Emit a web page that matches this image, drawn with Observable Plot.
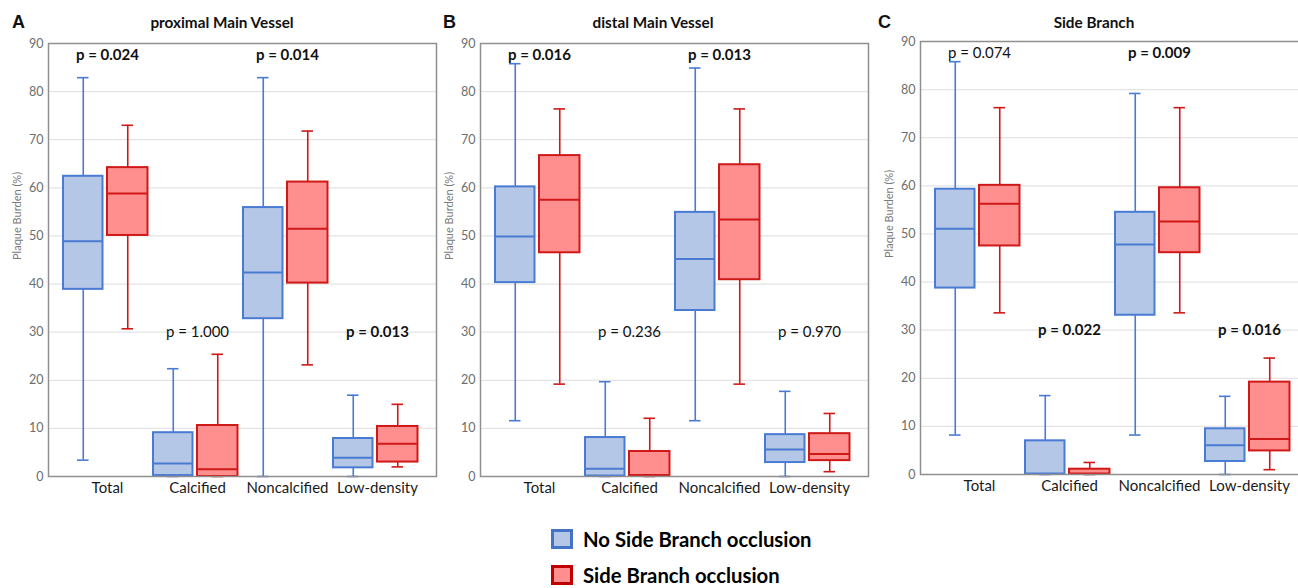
<!DOCTYPE html>
<html><head><meta charset="utf-8">
<script src="https://cdn.jsdelivr.net/npm/d3@7"></script>
<script src="https://cdn.jsdelivr.net/npm/@observablehq/plot@0.6"></script>
<style>
html,body{margin:0;padding:0;background:#fff;overflow:hidden;width:1298px;height:588px;}
#root{position:relative;width:1298px;height:588px;overflow:hidden;font-family:Lato,sans-serif;color:#111;}
.panel{position:absolute;width:440px;}
.panel svg{max-width:none !important;}
.letter{position:absolute;font:bold 18px "Liberation Sans",Arial,sans-serif;top:12px;color:#111;}
.title{position:absolute;font:bold 15.3px Lato,sans-serif;transform:translateX(-50%);top:13px;white-space:nowrap;color:#111;}
.panel svg g[aria-label^="y-axis"] text{fill:#6d6d6d;font-size:12.5px;}
.panel svg g[aria-label^="x-axis"] text{fill:#1a1a1a;font-size:15px;}
.leg{position:absolute;font:bold 20.3px Lato,sans-serif;line-height:22px;height:22px;color:#000;display:flex;align-items:center;white-space:nowrap;}
.sw{display:inline-block;width:22px;height:20px;box-sizing:border-box;border:3px solid;margin-right:10px;}
</style>
</head><body>
<div id="root"></div>
<script>
// ---- data ----
const categories = ["Total", "Calcified", "Noncalcified", "Low-density"];
const groups = ["No Side Branch occlusion", "Side Branch occlusion"];
const panelLetters = ["A", "B", "C"];
const panelTitles = ["proximal Main Vessel", "distal Main Vessel", "Side Branch"];
const yTicks = [0, 10, 20, 30, 40, 50, 60, 70, 80, 90];
const yLabel = "Plaque Burden (%)";

// [min, q1, median, q3, max] per category
const proximalNo = [
  [3.4, 38.9, 48.9, 62.4, 82.9],
  [0, 0.2, 2.7, 9.1, 22.4],
  [0, 32.8, 42.4, 55.9, 82.9],
  [0, 1.8, 3.9, 7.9, 16.9]
];
const proximalYes = [
  [30.7, 50.1, 58.8, 64.2, 73.0],
  [0, 0, 1.5, 10.6, 25.4],
  [23.2, 40.2, 51.5, 61.2, 71.8],
  [2.0, 3.0, 6.8, 10.4, 15.0]
];
const distalNo = [
  [11.6, 40.3, 49.9, 60.2, 85.8],
  [0, 0.1, 1.6, 8.1, 19.7],
  [11.6, 34.5, 45.2, 54.9, 84.9],
  [0, 2.9, 5.6, 8.7, 17.7]
];
const distalYes = [
  [19.2, 46.5, 57.5, 66.7, 76.4],
  [0, 0, 0.3, 5.2, 12.1],
  [19.2, 40.9, 53.4, 64.8, 76.4],
  [1.0, 3.3, 4.7, 8.9, 13.1]
];
const sideNo = [
  [8.2, 38.75, 51.1, 59.3, 85.8],
  [0, 0, 0.2, 7.0, 16.4],
  [8.2, 33.1, 47.8, 54.5, 79.2],
  [0, 2.7, 6.1, 9.5, 16.25]
];
const sideYes = [
  [33.6, 47.5, 56.3, 60.1, 76.25],
  [0, 0, 0.2, 1.1, 2.5],
  [33.6, 46.1, 52.6, 59.6, 76.25],
  [1.0, 4.9, 7.4, 19.2, 24.2]
];
const pProximal = ["0.024", "1.000", "0.014", "0.013"];
const pDistal = ["0.016", "0.236", "0.013", "0.970"];
const pSide = ["0.074", "0.022", "0.009", "0.016"];

// ---- styling / layout ----
const colors = {
  [groups[0]]: {fill: "#b4c7e7", stroke: "#4a7bd3"},
  [groups[1]]: {fill: "#ff8f8f", stroke: "#cf1818"}
};
const W = 440, H = 510, ML = 48, MR = 4, MT = 43, MB = 34;
const padOuter = 0.1436;
const frameW = W - ML - MR;
const step = frameW / (categories.length + 2 * padOuter);
// box extents inside a band (pixels from band start)
const boxSpan = {[groups[0]]: [1, 41], [groups[1]]: [45, 86]};
const capHalf = 6;

const root = document.getElementById("root");
const panels = [
  {no: proximalNo, yes: proximalYes, p: pProximal, left: 0, top: 0, titleX: 222, letterX: 12},
  {no: distalNo, yes: distalYes, p: pDistal, left: 432, top: 0, titleX: 653, letterX: 443},
  {no: sideNo, yes: sideYes, p: pSide, left: 872, top: -2, titleX: 1094, letterX: 878}
];
const pLabelY = {"Total": 87.5, "Calcified": 30, "Noncalcified": 87.5, "Low-density": 30};

panels.forEach((pn, k) => {
  const rows = [];
  categories.forEach((c, i) => {
    [pn.no[i], pn.yes[i]].forEach((s, j) => {
      rows.push({cat: c, grp: groups[j], min: s[0], q1: s[1], med: s[2], q3: s[3], max: s[4]});
    });
  });
  const pRows = categories.map((c, i) => ({cat: c, p: pn.p[i], y: pLabelY[c]}));

  const marks = [Plot.ruleY(yTicks, {stroke: "#e4e4e4", strokeWidth: 1.2})];
  groups.forEach(g => {
    const [a, b] = boxSpan[g];
    const col = colors[g];
    const center = (a + b) / 2;
    const f = {filter: d => d.grp === g};
    marks.push(
      Plot.ruleX(rows, {...f, x: "cat", y1: "min", y2: "q1", stroke: col.stroke, strokeWidth: 1.6, dx: center - step / 2}),
      Plot.ruleX(rows, {...f, x: "cat", y1: "q3", y2: "max", stroke: col.stroke, strokeWidth: 1.6, dx: center - step / 2}),
      Plot.tickY(rows, {...f, x: "cat", y: "max", stroke: col.stroke, strokeWidth: 1.6, insetLeft: center - capHalf, insetRight: step - center - capHalf}),
      Plot.tickY(rows, {...f, x: "cat", y: "min", stroke: col.stroke, strokeWidth: 1.6, insetLeft: center - capHalf, insetRight: step - center - capHalf}),
      Plot.barY(rows, {...f, x: "cat", y1: "q1", y2: "q3", fill: col.fill, stroke: col.stroke, strokeWidth: 2, insetLeft: a, insetRight: step - b}),
      Plot.tickY(rows, {...f, x: "cat", y: "med", stroke: col.stroke, strokeWidth: 2, insetLeft: a, insetRight: step - b})
    );
  });
  marks.push(
    Plot.text(pRows, {filter: d => +d.p < 0.05, x: "cat", y: "y", text: d => "p = " + d.p, fontWeight: "bold", fontSize: 15, fill: "#111"}),
    Plot.text(pRows, {filter: d => +d.p >= 0.05, x: "cat", y: "y", text: d => "p = " + d.p, fontSize: 15, fill: "#111"}),
    Plot.text([yLabel], {text: d => d, frameAnchor: "left", rotate: -90, dx: -31, fontSize: 11, fill: "#7a7a7a"}),
    Plot.frame({stroke: "#8f8f8f", strokeWidth: 1.5})
  );

  const chart = Plot.plot({
    width: W, height: H,
    marginLeft: ML, marginRight: MR, marginTop: MT, marginBottom: MB,
    style: {fontFamily: "Lato, sans-serif", fontSize: "12px", background: "transparent", overflow: "visible", maxWidth: "none"},
    x: {domain: categories, paddingInner: 0, paddingOuter: padOuter, tickSize: 0, tickPadding: 6, label: null},
    y: {domain: [0, 90], ticks: yTicks, tickSize: 0, tickPadding: 5, label: null},
    marks
  });
  const div = document.createElement("div");
  div.className = "panel";
  div.style.left = pn.left + "px";
  div.style.top = pn.top + "px";
  div.appendChild(chart);
  root.appendChild(div);

  const letter = document.createElement("div");
  letter.className = "letter";
  letter.style.left = pn.letterX + "px";
  letter.textContent = panelLetters[k];
  root.appendChild(letter);

  const title = document.createElement("div");
  title.className = "title";
  title.style.left = pn.titleX + "px";
  title.textContent = panelTitles[k];
  root.appendChild(title);
});

// legend
groups.forEach((g, j) => {
  const el = document.createElement("div");
  el.className = "leg";
  el.style.left = "551px";
  el.style.top = (j === 0 ? 528 : 564) + "px";
  const sw = document.createElement("span");
  sw.className = "sw";
  sw.style.background = colors[g].fill;
  sw.style.borderColor = j === 0 ? "#4472c4" : "#c00000";
  el.appendChild(sw);
  el.appendChild(document.createTextNode(g));
  root.appendChild(el);
});
</script>
</body></html>
